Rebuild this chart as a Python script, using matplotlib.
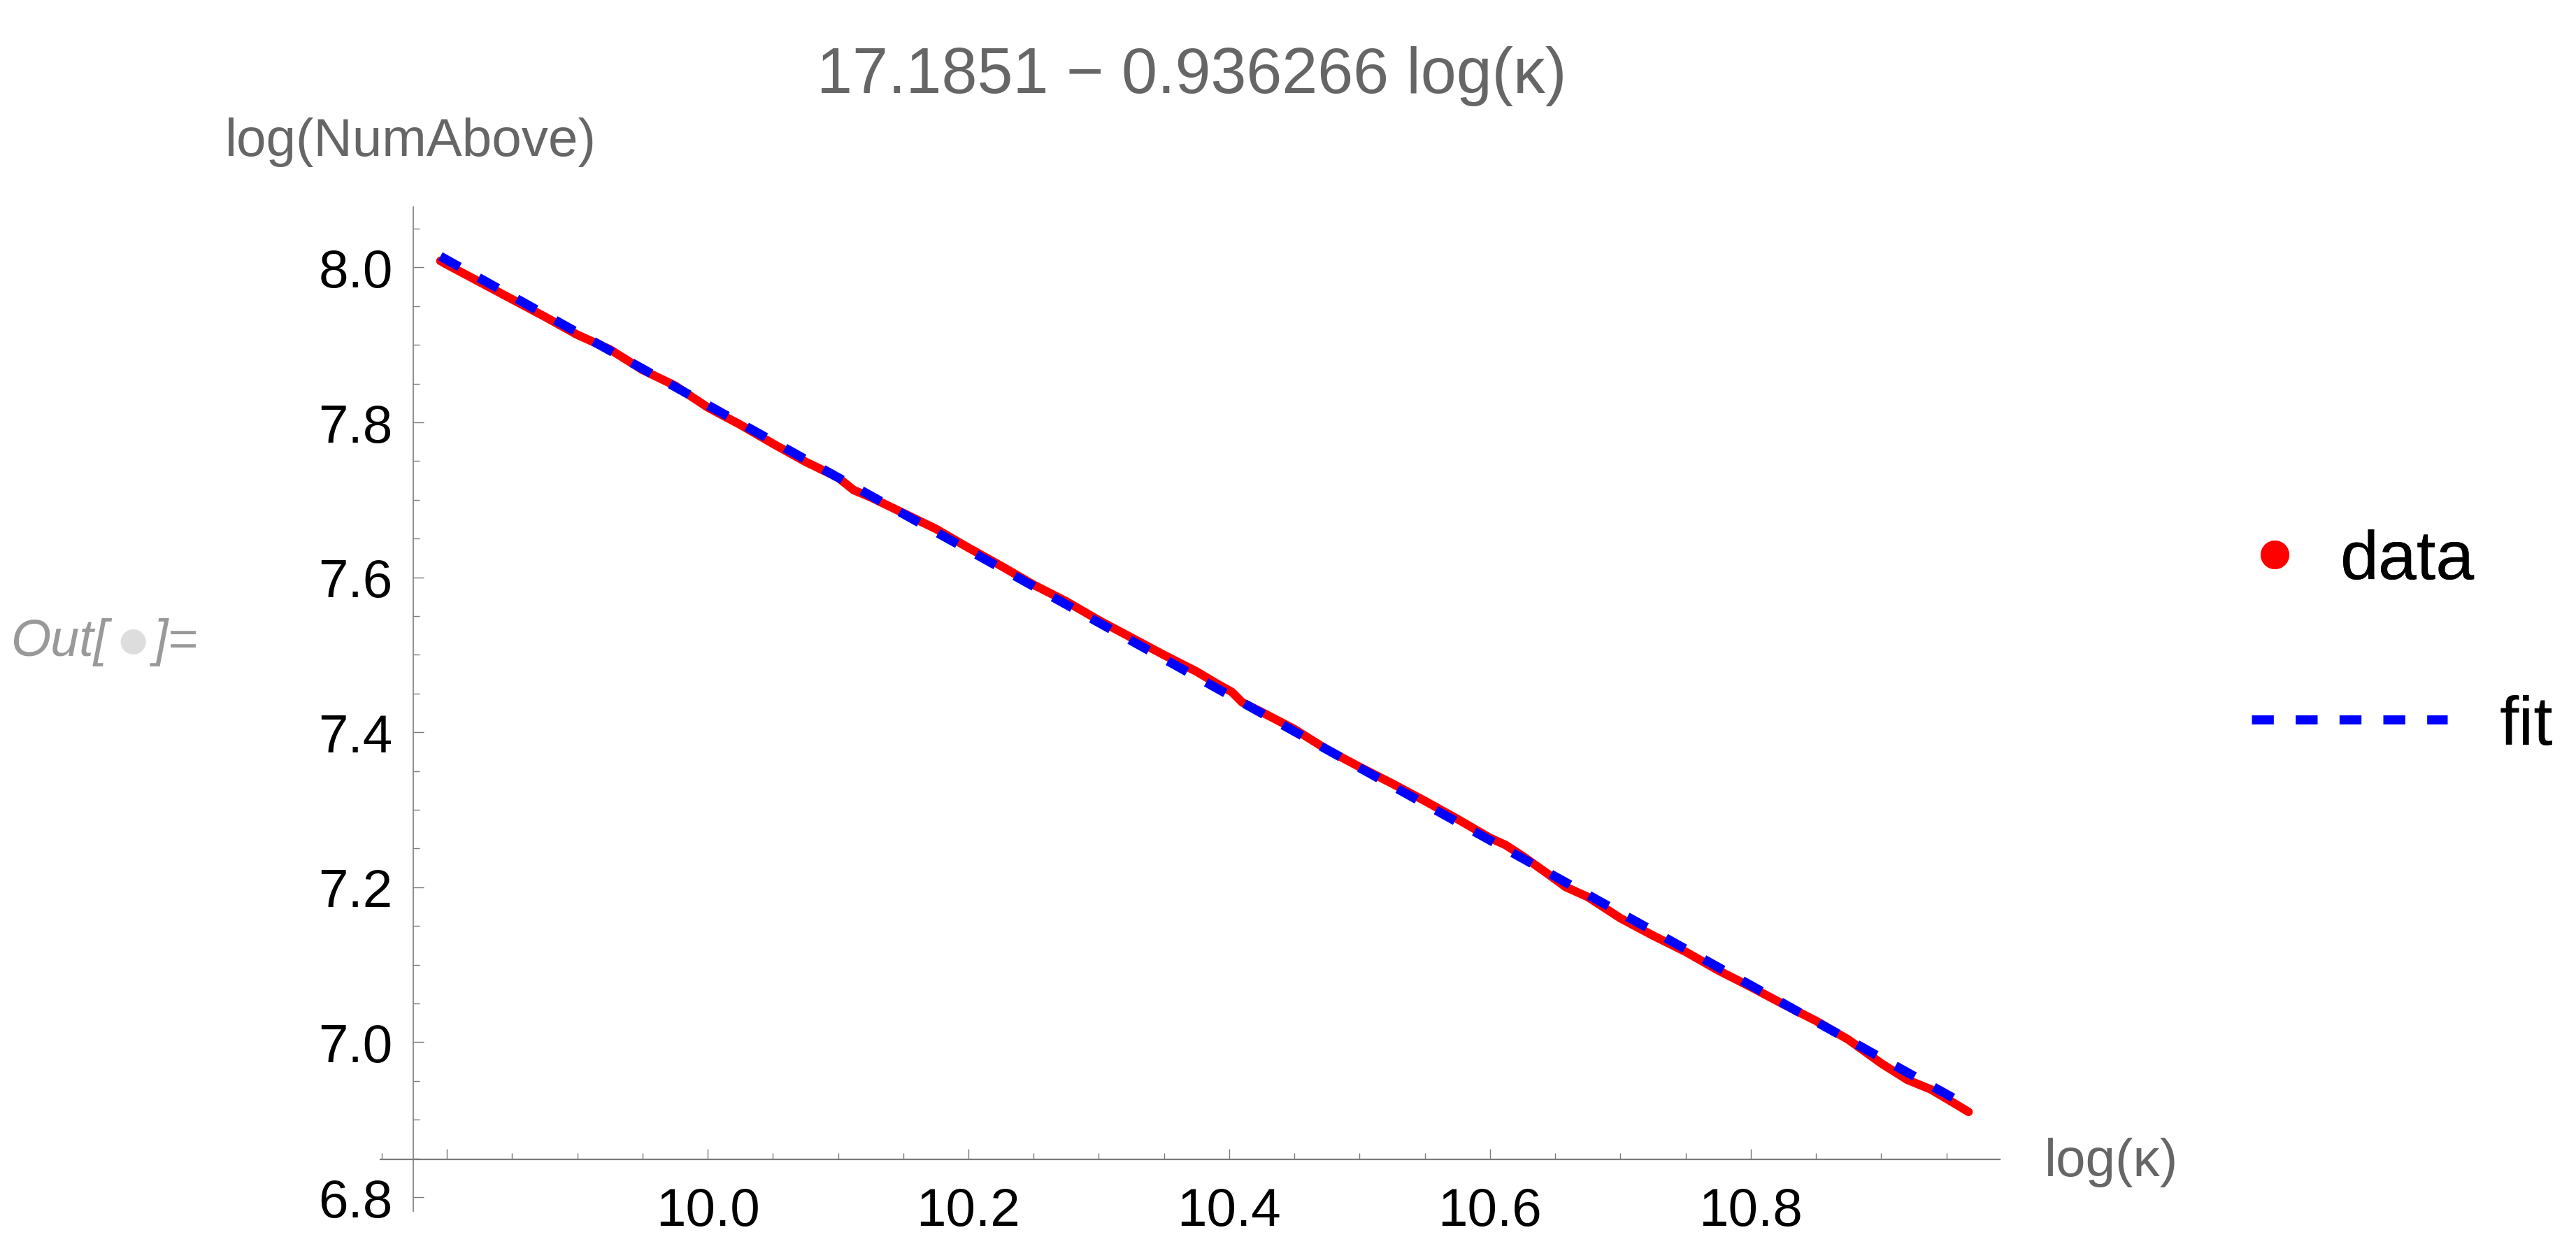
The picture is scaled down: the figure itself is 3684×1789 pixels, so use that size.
import matplotlib
matplotlib.use('Agg')
import matplotlib.pyplot as plt
from matplotlib.lines import Line2D
from matplotlib.ticker import MultipleLocator

plt.rcParams['font.family'] = ['Liberation Sans', 'DejaVu Sans']

# data: log(kappa) vs log(NumAbove)
log_kappa = [9.795, 9.800, 9.825, 9.850, 9.875, 9.900, 9.925, 9.950, 9.975,
             10.000, 10.025, 10.050, 10.075, 10.100, 10.112, 10.125, 10.150,
             10.175, 10.200, 10.225, 10.250, 10.275, 10.300, 10.325, 10.350,
             10.375, 10.390, 10.402, 10.410, 10.425, 10.450, 10.475, 10.500,
             10.525, 10.550, 10.575, 10.600, 10.612, 10.625, 10.643, 10.658,
             10.675, 10.700, 10.725, 10.750, 10.775, 10.800, 10.825, 10.850,
             10.875, 10.900, 10.920, 10.938, 10.955, 10.967]
log_num_above = [8.0084, 8.0037, 7.9813, 7.9589, 7.9365, 7.9131, 7.8942, 7.8678,
                 7.8474, 7.8194, 7.7970, 7.7726, 7.7492, 7.7288, 7.7126, 7.7034,
                 7.6830, 7.6626, 7.6382, 7.6148, 7.5904, 7.5690, 7.5446, 7.5222,
                 7.4998, 7.4784, 7.4633, 7.4521, 7.4386, 7.4260, 7.4041, 7.3777,
                 7.3553, 7.3339, 7.3115, 7.2881, 7.2637, 7.2545, 7.2403, 7.2189,
                 7.2004, 7.1875, 7.1601, 7.1377, 7.1168, 7.0928, 7.0714, 7.0490,
                 7.0276, 7.0032, 6.9728, 6.9516, 6.9392, 6.9223, 6.9101]

# fit from the title
FIT_INTERCEPT = 17.1851
FIT_SLOPE = -0.936266

x_major = [9.8, 10.0, 10.2, 10.4, 10.6, 10.8]
x_labels = ['', '10.0', '10.2', '10.4', '10.6', '10.8']
y_major = [6.8, 7.0, 7.2, 7.4, 7.6, 7.8, 8.0]
y_labels = ['6.8', '7.0', '7.2', '7.4', '7.6', '7.8', '8.0']

W, H = 3684, 1790
DPI = 200
AXIS_GRAY = '#7a7a7a'
TEXT_GRAY = '#666666'


def fx(px):
    return px / W


def fy(py):
    return 1 - py / H


fig = plt.figure(figsize=(W / DPI, H / DPI), dpi=DPI)
ax = fig.add_axes([fx(544), fy(1733), fx(2860) - fx(544), fy(297) - fy(1733)])
ax.set_xlim(9.749, 10.991)
ax.set_ylim(6.782, 8.078)

fit_x = [log_kappa[0], log_kappa[-1]]
fit_y = [FIT_INTERCEPT + FIT_SLOPE * v for v in fit_x]

ax.plot(log_kappa, log_num_above, color='#ff0000', lw=4.4,
        solid_capstyle='round', solid_joinstyle='round', zorder=3)
ax.plot(fit_x, fit_y, color='#0000ff', lw=4.7, dashes=(2.4, 2.4),
        dash_capstyle='butt', zorder=4)

# Mathematica style crossing axes
for side in ['top', 'right']:
    ax.spines[side].set_visible(False)
ax.spines['left'].set_position(('data', 9.774))
ax.spines['bottom'].set_position(('data', 6.849))
ax.spines['left'].set_color(AXIS_GRAY)
ax.spines['bottom'].set_color(AXIS_GRAY)
ax.spines['left'].set_linewidth(0.6)
ax.spines['bottom'].set_linewidth(0.8)

ax.set_xticks(x_major, labels=x_labels)
ax.set_yticks(y_major, labels=y_labels)
ax.xaxis.set_minor_locator(MultipleLocator(0.05))
ax.yaxis.set_minor_locator(MultipleLocator(0.05))
ax.tick_params(which='both', direction='in', color=AXIS_GRAY, width=0.5,
               labelsize=27.5, labelcolor='black')
ax.tick_params(which='major', length=5.5)
ax.tick_params(which='minor', length=3.3)
ax.tick_params(axis='x', which='major', pad=14)
ax.tick_params(axis='y', which='major', pad=10.4)

# labels
fig.text(fx(587), fy(223), 'log(NumAbove)', ha='center', va='baseline',
         fontsize=27.5, color=TEXT_GRAY)
fig.text(fx(2924), fy(1682), 'log(κ)', ha='left', va='baseline',
         fontsize=27.5, color=TEXT_GRAY)
fig.text(fx(1704), fy(133), '17.1851 − 0.936266 log(κ)', ha='center',
         va='baseline', fontsize=33, color=TEXT_GRAY)

# Out[ ]= cell label
fig.text(fx(15), fy(938), 'Out[', ha='left', va='baseline', fontsize=26.5,
         style='italic', color='#999999')
fig.text(fx(190), fy(917), '●', ha='center', va='center', fontsize=17,
         color='#dddddd', family='DejaVu Sans')
fig.text(fx(219), fy(938), ']=', ha='left', va='baseline', fontsize=26.5,
         style='italic', color='#999999')

# legends
data_handle = Line2D([], [], ls='none', marker='o', ms=13.7,
                     mfc='#ff0000', mec='#ff0000')
fit_handle = Line2D([], [], color='#0000ff', lw=4.7, dashes=(2.4, 2.4),
                    dash_capstyle='butt')
leg1 = fig.legend([data_handle], ['data'], loc='center left',
                  bbox_to_anchor=(fx(3233), fy(803)), frameon=False,
                  borderpad=0, borderaxespad=0, handlelength=0.4,
                  handletextpad=0.75, numpoints=1, fontsize=35.5)
leg2 = fig.legend([fit_handle], ['fit'], loc='center left',
                  bbox_to_anchor=(fx(3220), fy(1039)), frameon=False,
                  borderpad=0, borderaxespad=0, handlelength=2.84,
                  handletextpad=0.76, fontsize=35.5)
fig.add_artist(leg1)

fig.savefig('out.png', dpi=DPI, facecolor='white')
plt.close(fig)
